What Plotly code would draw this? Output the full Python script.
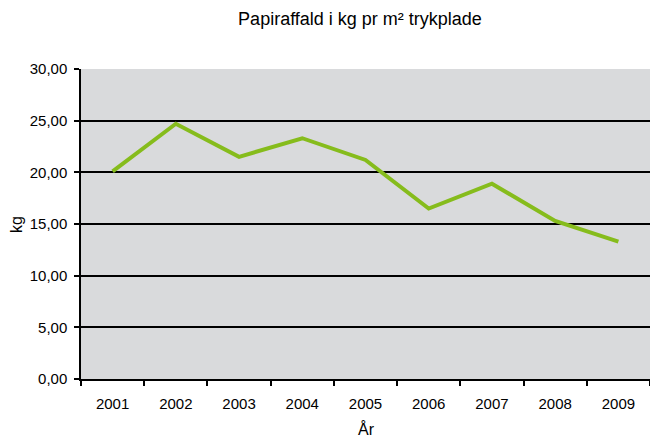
import plotly.graph_objects as go

years = ["2001", "2002", "2003", "2004", "2005", "2006", "2007", "2008", "2009"]
values = [20.1, 24.7, 21.5, 23.3, 21.2, 16.5, 18.9, 15.3, 13.3]
y_ticks = [0, 5, 10, 15, 20, 25, 30]

FONT = "Liberation Sans, Arial, sans-serif"
W, H = 650, 439
L, R, T, B = 81, 0, 69, 60

fig = go.Figure()
fig.add_trace(go.Scatter(
    x=years, y=values, mode="lines",
    line=dict(color="#86BC1C", width=4),
    hoverinfo="x+y", showlegend=False,
))

fig.update_layout(
    width=W, height=H,
    margin=dict(l=L, r=R, t=T, b=B, autoexpand=False),
    paper_bgcolor="white",
    plot_bgcolor="#D9DADC",
    separators=",.",
    font=dict(family=FONT, size=15, color="#000000"),
    title=dict(text="Papiraffald i kg pr m² trykplade", x=(360 - L) / (W - L - R), xref="paper",
               xanchor="center", y=1 - 19 / H, yref="container", yanchor="middle",
               font=dict(family=FONT, size=18, color="#000000")),
    xaxis=dict(
        type="category", range=[-0.5, len(years) - 0.5], showgrid=False, tickson="boundaries",
        ticks="outside", ticklen=5, tickwidth=1.5, tickcolor="#000000",
        showline=True, linecolor="#000000", linewidth=1.5,
        automargin=False, ticklabelstandoff=10,
        tickfont=dict(size=15),
    ),
    yaxis=dict(
        range=[0, 30], tickvals=y_ticks, tickformat=".2f",
        showgrid=True, gridcolor="#000000", gridwidth=1.5,
        ticks="outside", ticklen=5, tickwidth=1.5, tickcolor="#000000",
        showline=True, linecolor="#000000", linewidth=1.5,
        zeroline=False, automargin=False, ticklabelstandoff=4,
        tickfont=dict(size=15),
    ),
    annotations=[
        dict(text="År", xref="paper", yref="paper", x=(366 - L) / (W - L - R), y=-(429 - (H - B)) / (H - T - B),
             xanchor="center", yanchor="middle", showarrow=False, font=dict(family=FONT, size=16)),
        dict(text="kg", xref="paper", yref="paper", x=-(L - 17) / (W - L - R), y=(H - B - 225) / (H - T - B),
             xanchor="center", yanchor="middle", textangle=-90, showarrow=False, font=dict(family=FONT, size=16)),
    ],
)

fig.write_html(
    "out.html",
    config={"displayModeBar": False},
    post_script="document.body.style.margin='0';document.body.style.overflow='hidden';",
)
